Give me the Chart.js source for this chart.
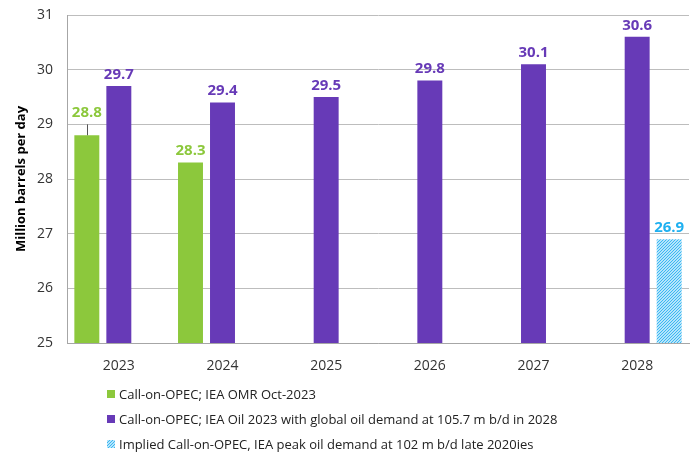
<!DOCTYPE html>
<html>
<head>
<meta charset="utf-8">
<script src="https://cdn.jsdelivr.net/npm/chart.js@4.4.1/dist/chart.umd.min.js"></script>
<style>
  html, body { margin: 0; padding: 0; background: #fff; }
  #wrap { position: relative; width: 700px; height: 457px; }
  #c { position: absolute; left: 0; top: 0; }
  #legend { position: absolute; left: 107px; top: 381px; font-family: "Open Sans", sans-serif; font-size: 13px; color: #222; }
  .row { height: 25px; line-height: 18px; display: flex; align-items: center; white-space: nowrap; }
  .row .box { width: 8px; height: 8px; margin-right: 4px; flex: none; }
</style>
</head>
<body>
<div id="wrap">
  <canvas id="c" width="700" height="457"></canvas>
  <div id="legend"></div>
</div>
<script>
const categories = ["2023", "2024", "2025", "2026", "2027", "2028"];
const omrOct2023 = [28.8, 28.3, null, null, null, null];
const omrErrorHigh = [29.0, null, null, null, null, null];
const oil2023 = [29.7, 29.4, 29.5, 29.8, 30.1, 30.6];
const peakDemand = [null, null, null, null, null, 26.9];
const seriesLabels = [
  "Call-on-OPEC; IEA OMR Oct-2023",
  "Call-on-OPEC; IEA Oil 2023 with global oil demand at 105.7 m b/d in 2028",
  "Implied Call-on-OPEC, IEA peak oil demand at 102 m b/d late 2020ies"
];
const yAxisTitle = "Million barrels per day";

const GREEN = "#8cc83c";
const PURPLE = "#673ab7";
const BLUE = "#1fb0f0";

function makeHatch() {
  const t = document.createElement("canvas");
  t.width = 3; t.height = 3;
  const g = t.getContext("2d");
  g.fillStyle = "#b5e5fb";
  g.fillRect(0, 0, 3, 3);
  g.fillStyle = "#3cb7f2";
  for (let i = 0; i < 3; i++) { g.fillRect(i, 2 - i, 1, 1); }
  return document.getElementById("c").getContext("2d").createPattern(t, "repeat");
}
const hatch = makeHatch();

const valueLabels = {
  id: "valueLabels",
  afterDatasetsDraw(chart) {
    const ctx = chart.ctx;
    ctx.save();
    ctx.font = "bold 15px 'Open Sans', sans-serif";
    ctx.textAlign = "center";
    ctx.textBaseline = "bottom";
    chart.data.datasets.forEach((ds, di) => {
      const meta = chart.getDatasetMeta(di);
      meta.data.forEach((el, i) => {
        const v = ds.data[i];
        if (v == null) return;
        let top = el.y;
        if (ds.errorHigh && ds.errorHigh[i] != null) {
          top = chart.scales.y.getPixelForValue(ds.errorHigh[i]);
        }
        ctx.fillStyle = ds.labelColor;
        ctx.fillText(v.toFixed(1), el.x, top - 4);
      });
    });
    ctx.restore();
  }
};

const errorBars = {
  id: "errorBars",
  afterDatasetsDraw(chart) {
    const ctx = chart.ctx;
    ctx.save();
    ctx.strokeStyle = "#555";
    ctx.lineWidth = 1;
    chart.data.datasets.forEach((ds, di) => {
      if (!ds.errorHigh) return;
      const meta = chart.getDatasetMeta(di);
      meta.data.forEach((el, i) => {
        const h = ds.errorHigh[i];
        if (h == null || ds.data[i] == null) return;
        const y2 = chart.scales.y.getPixelForValue(h);
        const x = Math.round(el.x) + 0.5;
        ctx.beginPath();
        ctx.moveTo(x, el.y);
        ctx.lineTo(x, y2);
        ctx.stroke();
      });
    });
    ctx.restore();
  }
};

const chart = new Chart(document.getElementById("c"), {
  type: "bar",
  data: {
    labels: categories,
    datasets: [
      { label: seriesLabels[0], data: omrOct2023, errorHigh: omrErrorHigh, backgroundColor: GREEN, labelColor: GREEN, barPercentage: 0.78, categoryPercentage: 0.926 },
      { label: seriesLabels[1], data: oil2023, backgroundColor: PURPLE, labelColor: PURPLE, barPercentage: 0.78, categoryPercentage: 0.926 },
      { label: seriesLabels[2], data: peakDemand, backgroundColor: hatch, labelColor: BLUE, barPercentage: 0.78, categoryPercentage: 0.926 }
    ]
  },
  options: {
    responsive: false,
    animation: false,
    layout: { padding: { top: 15, right: 11, bottom: 0, left: 0 } },
    plugins: { legend: { display: false }, tooltip: { enabled: false } },
    scales: {
      x: {
        grid: { display: false, drawTicks: false },
        border: { display: true, color: "#a6a6a6", width: 1 },
        ticks: { color: "#333", font: { family: "'Open Sans', sans-serif", size: 14 }, padding: 15 },
        afterFit(s) { s.height = 114; }
      },
      y: {
        min: 25, max: 31,
        ticks: { stepSize: 1, color: "#333", font: { family: "'Open Sans', sans-serif", size: 14 }, padding: 14 },
        grid: { color: "#bdbdbd", drawTicks: false, lineWidth: 1 },
        border: { display: true, color: "#a6a6a6", width: 1 },
        title: { display: true, text: yAxisTitle, color: "#000", font: { family: "'Open Sans', sans-serif", size: 13, weight: "bold" }, padding: { top: 13, bottom: 6 } },
        afterFit(s) { s.width = 67; s.paddingTop = 0; s.paddingBottom = 0; }
      }
    }
  },
  plugins: [errorBars, valueLabels]
});

// HTML legend built from the chart's datasets
const legendEl = document.getElementById("legend");
const swatches = [GREEN, PURPLE, null];
chart.data.datasets.forEach((ds, i) => {
  const row = document.createElement("div");
  row.className = "row";
  const box = document.createElement("span");
  box.className = "box";
  if (swatches[i]) box.style.background = swatches[i];
  else box.style.background = "repeating-linear-gradient(-45deg, #3cb7f2 0 1px, #b5e5fb 1px 2.2px)";
  const txt = document.createElement("span");
  txt.textContent = ds.label;
  row.appendChild(box); row.appendChild(txt);
  legendEl.appendChild(row);
});
</script>
</body>
</html>
